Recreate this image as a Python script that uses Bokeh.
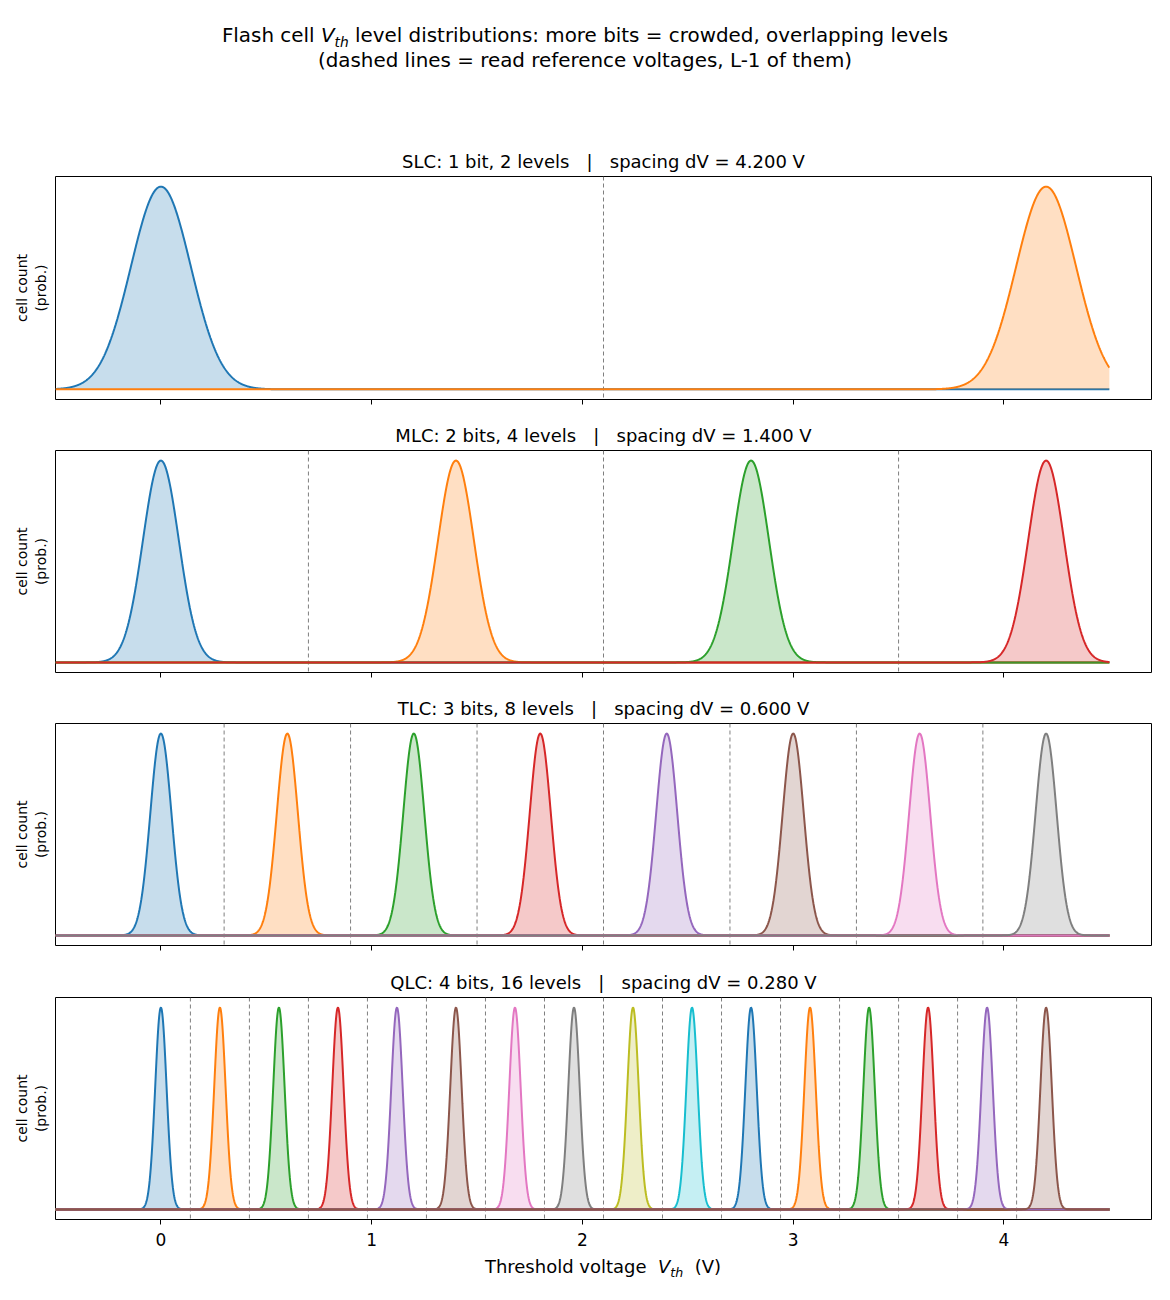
import numpy as np
from bokeh.plotting import figure
from bokeh.models import Range1d, FixedTicker, Span, Div, LinearAxis
from bokeh.layouts import column
from bokeh.embed import file_html
from bokeh.resources import INLINE

# ---------------- data ----------------
TAB10 = ["#1f77b4", "#ff7f0e", "#2ca02c", "#d62728", "#9467bd",
         "#8c564b", "#e377c2", "#7f7f7f", "#bcbd22", "#17becf"]

cell_types = ["SLC", "MLC", "TLC", "QLC"]
bits = [1, 2, 3, 4]
n_levels = [2, 4, 8, 16]
spacing_dv = [4.200, 1.400, 0.600, 0.280]

slc_means = [0.0, 4.2]
mlc_means = [0.0, 1.4, 2.8, 4.2]
tlc_means = [0.0, 0.6, 1.2, 1.8, 2.4, 3.0, 3.6, 4.2]
qlc_means = [0.00, 0.28, 0.56, 0.84, 1.12, 1.40, 1.68, 1.96,
             2.24, 2.52, 2.80, 3.08, 3.36, 3.64, 3.92, 4.20]
level_sigma = [0.142, 0.085, 0.050, 0.027]

slc_refs = [2.1]
mlc_refs = [0.7, 2.1, 3.5]
tlc_refs = [0.3, 0.9, 1.5, 2.1, 2.7, 3.3, 3.9]
qlc_refs = [0.14, 0.42, 0.70, 0.98, 1.26, 1.54, 1.82, 2.10,
            2.38, 2.66, 2.94, 3.22, 3.50, 3.78, 4.06]

x_ticks = [0, 1, 2, 3, 4]
vth_min, vth_max = -0.5, 4.5

all_means = [slc_means, mlc_means, tlc_means, qlc_means]
all_refs = [slc_refs, mlc_refs, tlc_refs, qlc_refs]

FONT = "DejaVu Sans"
NB3 = "\u00a0\u00a0\u00a0"

vth = np.linspace(vth_min, vth_max, 3000)

# layout settings: (min_border_top, frame_height, min_border_bottom)
geom = [(33, 223, 18), (33, 222, 18), (33, 222, 19), (33, 222, 36)]


def style_label_axis(ax, label, standoff):
    ax.ticker = FixedTicker(ticks=[])
    ax.axis_line_color = None
    ax.major_tick_line_color = None
    ax.minor_tick_line_color = None
    ax.major_tick_out = 0
    ax.major_tick_in = 0
    ax.major_label_text_color = None
    ax.major_label_text_font_size = "1px"
    ax.major_label_standoff = 0
    ax.axis_label = label
    ax.axis_label_text_font = FONT
    ax.axis_label_text_font_size = "14px"
    ax.axis_label_text_font_style = "normal"
    ax.axis_label_text_color = "black"
    ax.axis_label_standoff = standoff


panels = []
for i in range(4):
    top, fh, bot = geom[i]
    last = (i == 3)
    title = (f"{cell_types[i]}: {bits[i]} bit{'s' if bits[i] > 1 else ''}, "
             f"{n_levels[i]} levels{NB3}|{NB3}spacing dV = {spacing_dv[i]:.3f} V")
    p = figure(frame_width=1096, frame_height=fh,
               x_range=Range1d(-0.5, 4.7), y_range=Range1d(-0.05, 1.05),
               output_backend="svg", toolbar_location=None,
               min_border_left=55, min_border_right=19,
               min_border_top=top, min_border_bottom=bot,
               title=title)
    p.title.align = "center"
    p.title.text_font = FONT
    p.title.text_font_size = "18px"
    p.title.text_font_style = "normal"
    p.title.text_color = "black"
    p.title.standoff = 10
    p.outline_line_color = "black"
    p.outline_line_width = 1
    p.xgrid.visible = False
    p.ygrid.visible = False
    p.background_fill_color = "white"
    p.border_fill_color = "white"

    sig = level_sigma[i]
    for k, mu in enumerate(all_means[i]):
        c = TAB10[k % 10]
        dens = np.exp(-0.5 * ((vth - mu) / sig) ** 2)
        p.varea(x=vth, y1=np.zeros_like(vth), y2=dens, fill_color=c, fill_alpha=0.25)
        p.line(vth, dens, line_color=c, line_width=2)

    for r in all_refs[i]:
        p.add_layout(Span(location=r, dimension="height", line_color="#7f7f7f",
                          line_width=1, line_dash="4 3", level="underlay"))

    xa = p.xaxis[0]
    xa.ticker = FixedTicker(ticks=x_ticks)
    xa.axis_line_color = None
    xa.major_tick_line_color = "black"
    xa.major_tick_out = 5
    xa.major_tick_in = 0
    xa.minor_tick_line_color = None
    if last:
        xa.major_label_text_font = FONT
        xa.major_label_text_font_size = "17px"
        xa.major_label_text_color = "black"
        xa.major_label_standoff = 8
    else:
        xa.major_label_text_color = None
        xa.major_label_text_font_size = "1px"
        xa.major_label_standoff = 0

    style_label_axis(p.yaxis[0], "(prob.)", 7)
    extra = LinearAxis()
    style_label_axis(extra, "cell count", 0)
    p.add_layout(extra, "left")
    panels.append(p)

title_html = (
    "<div style=\"width:1170px;text-align:center;font-family:'DejaVu Sans';"
    "font-size:19.9px;line-height:24px;padding-top:24px;color:black;\">"
    "Flash cell <i>V</i><span style=\"font-style:italic;font-size:13.8px;"
    "position:relative;top:5px;\">th</span> level distributions: more bits = crowded, "
    "overlapping levels<br>(dashed lines = read reference voltages, L-1 of them)</div>"
)
title_div = Div(text=title_html, width=1170, height=143, margin=(0, 0, 0, 0))

xlabel_html = (
    "<div style=\"width:1096px;margin-left:55px;text-align:center;font-family:'DejaVu Sans';"
    "font-size:18px;line-height:22px;padding-top:1px;color:black;\">"
    "Threshold voltage&nbsp; <i>V</i><span style=\"font-style:italic;font-size:12.6px;"
    "position:relative;top:4px;\">th</span>&nbsp; (V)</div>"
)
xlabel_div = Div(text=xlabel_html, width=1170, height=40, margin=(0, 0, 0, 0))

layout = column(title_div, *panels, xlabel_div, spacing=0)

open("out.html", "w").write(file_html(layout, INLINE))
